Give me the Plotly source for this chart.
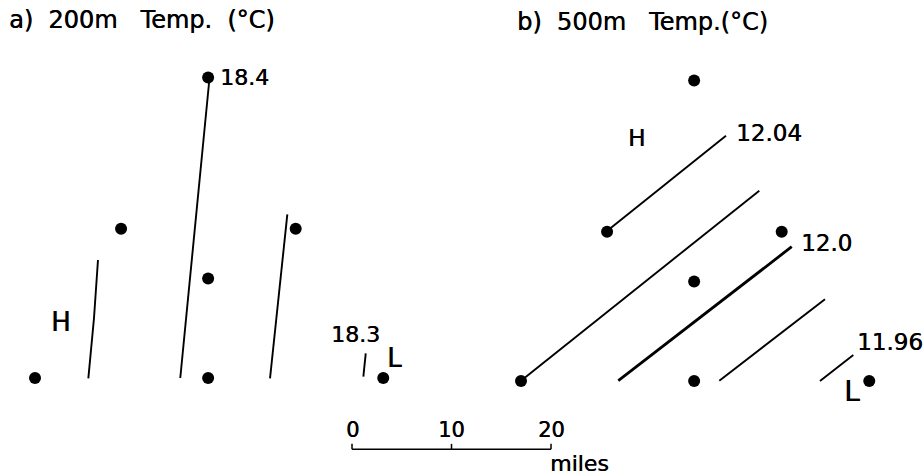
import plotly.graph_objects as go

# ---------------- data (positions in miles) ----------------
# station grid, identical in both panels
station_x = [0.0, 8.65, 17.4, 17.4, 17.4, 26.2, 35.0]
station_y = [0.0, 15.0, 30.2, 10.0, 0.0, 15.0, 0.0]

# panel a) 200 m isotherm segments
iso_a_x = [[6.33, 5.93, 5.36], [17.49, 14.6], [25.36, 23.62], [33.24, 33.0]]
iso_a_y = [[11.86, 6.03, -0.03], [29.65, 0.0], [16.45, -0.03], [2.48, 0.13]]
iso_a_width = [1.9, 1.9, 1.9, 1.9]

# panel b) 500 m isotherm segments
iso_b_x = [[8.64, 20.6], [0.0, 23.95], [9.78, 27.21], [19.93, 30.55], [30.05, 33.4]]
iso_b_y = [[15.08, 24.65], [0.03, 19.13], [0.03, 13.5], [0.03, 8.21], [0.0, 2.61]]
iso_b_width = [1.9, 1.9, 2.8, 1.9, 1.9]

# contour labels
label_a_text = ["18.4", "18.3"]
label_a_x = [18.39, 32.21]
label_a_y = [30.18, 4.42]
label_a_anchor = ["left", "center"]

label_b_text = ["12.04", "12.0", "11.96"]
label_b_x = [21.41, 27.97, 33.57]
label_b_y = [24.89, 13.9, 3.89]

# high / low markers
hl_a_text = ["H", "L"]
hl_a_x = [2.61, 36.08]
hl_a_y = [5.63, 2.01]
hl_b_text = ["H", "L"]
hl_b_x = [11.56, 33.22]
hl_b_y = [24.42, -1.08]

# scale bar (miles)
scale_ticks = [0, 10, 20]
scale_unit = "miles"

titles = ["a)  200m   Temp.  (°C)", "b)  500m   Temp.(°C)"]

# ---------------- layout constants ----------------
W, H = 924, 475
PX = 9.95                       # pixels per mile
A_OX, A_OY = 35.0, 378.0        # pixel origin of panel a grid
B_OX, B_OY = 521.0, 381.0       # pixel origin of panel b grid
SCALE_X0, SCALE_Y0 = 31.86, -7.17   # scale-bar origin in panel-a miles
FONT = "DejaVu Sans"
SHADOW = "0.45px 0px 0px black"

fig = go.Figure()

def seg(xs, ys, ax, ay, width):
    fig.add_trace(go.Scatter(x=xs, y=ys, mode="lines", xaxis=ax, yaxis=ay,
                             line=dict(color="black", width=width),
                             hoverinfo="skip", showlegend=False))

for xs, ys, w in zip(iso_a_x, iso_a_y, iso_a_width):
    seg(xs, ys, "x", "y", w)
for xs, ys, w in zip(iso_b_x, iso_b_y, iso_b_width):
    seg(xs, ys, "x2", "y2", w)

for ax, ay in (("x", "y"), ("x2", "y2")):
    fig.add_trace(go.Scatter(x=station_x, y=station_y, mode="markers",
                             xaxis=ax, yaxis=ay,
                             marker=dict(color="black", size=12),
                             hoverinfo="skip", showlegend=False))

# scale bar
sx, sy = [], []
sx += [SCALE_X0 + scale_ticks[0], SCALE_X0 + scale_ticks[-1], None]
sy += [SCALE_Y0, SCALE_Y0, None]
for t in scale_ticks:
    sx += [SCALE_X0 + t, SCALE_X0 + t, None]
    sy += [SCALE_Y0, SCALE_Y0 + 0.55, None]
fig.add_trace(go.Scatter(x=sx, y=sy, mode="lines", xaxis="x", yaxis="y",
                         line=dict(color="black", width=1.5),
                         hoverinfo="skip", showlegend=False))

ann = []
def txt(text, x, y, xref, yref, size, xanchor="left"):
    ann.append(dict(text=text, x=x, y=y, xref=xref, yref=yref, showarrow=False,
                    xanchor=xanchor, yanchor="middle",
                    font=dict(family=FONT, size=size, color="black", shadow=SHADOW)))

for t, x, y, a in zip(label_a_text, label_a_x, label_a_y, label_a_anchor):
    txt(t, x, y, "x", "y", 22, a)
for t, x, y in zip(label_b_text, label_b_x, label_b_y):
    txt(t, x, y, "x2", "y2", 23)
txt(hl_a_text[0], hl_a_x[0], hl_a_y[0], "x", "y", 26, "center")
txt(hl_a_text[1], hl_a_x[1], hl_a_y[1], "x", "y", 26, "center")
txt(hl_b_text[0], hl_b_x[0], hl_b_y[0], "x2", "y2", 23, "center")
txt(hl_b_text[1], hl_b_x[1], hl_b_y[1], "x2", "y2", 28, "center")

for t in scale_ticks:
    txt(str(t), SCALE_X0 + t, SCALE_Y0 + 1.9, "x", "y", 21, "center")
txt(scale_unit, SCALE_X0 + scale_ticks[-1] - 0.35, SCALE_Y0 - 1.4, "x", "y", 22)

ann.append(dict(text=titles[0], x=7 / W, y=1 - 20 / H, xref="paper", yref="paper",
                showarrow=False, xanchor="left", yanchor="middle",
                font=dict(family=FONT, size=24, color="black", shadow=SHADOW)))
ann.append(dict(text=titles[1], x=515 / W, y=1 - 21.5 / H, xref="paper", yref="paper",
                showarrow=False, xanchor="left", yanchor="middle",
                font=dict(family=FONT, size=24, color="black", shadow=SHADOW)))

ax_common = dict(visible=False, showgrid=False, zeroline=False, fixedrange=True)
fig.update_layout(
    width=W, height=H,
    margin=dict(l=0, r=0, t=0, b=0),
    paper_bgcolor="white", plot_bgcolor="white",
    showlegend=False,
    annotations=ann,
    xaxis=dict(domain=[0, 1], range=[-A_OX / PX, (W - A_OX) / PX], **ax_common),
    yaxis=dict(domain=[0, 1], range=[(A_OY - H) / PX, A_OY / PX], **ax_common),
    xaxis2=dict(overlaying="x", range=[-B_OX / PX, (W - B_OX) / PX], **ax_common),
    yaxis2=dict(overlaying="y", range=[(B_OY - H) / PX, B_OY / PX], **ax_common),
)

fig.write_html("out.html")
